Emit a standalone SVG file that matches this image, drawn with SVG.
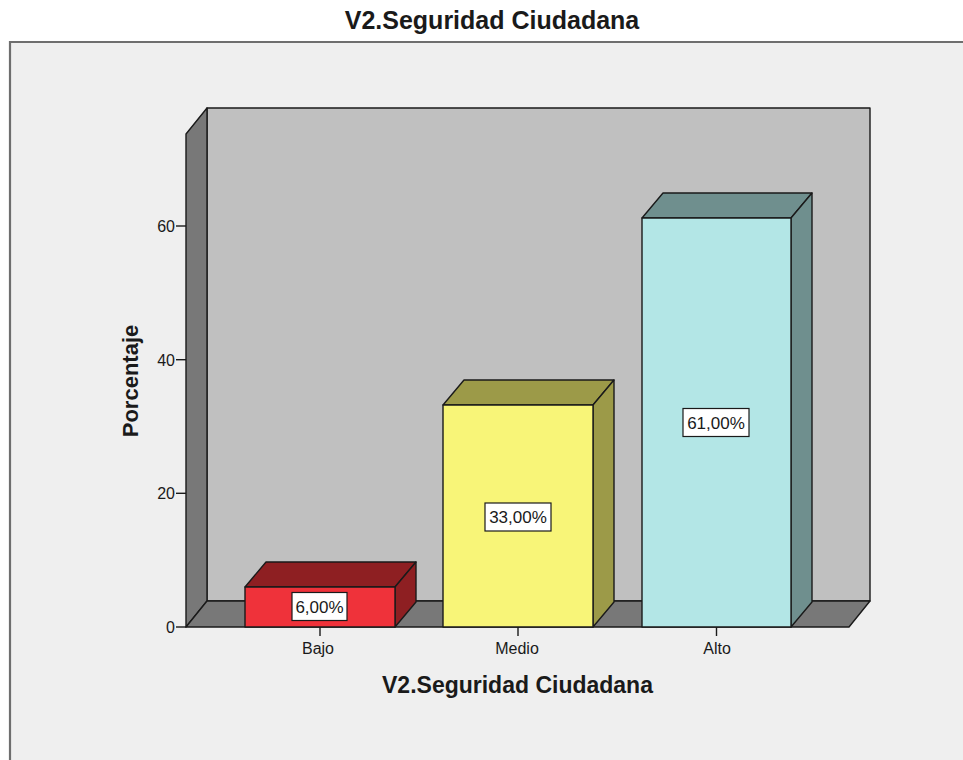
<svg xmlns="http://www.w3.org/2000/svg" width="963" height="760" viewBox="0 0 963 760">
<style>
.ln{stroke:#1a1a1a;stroke-width:1.4;stroke-linejoin:round}
.t{font-family:"Liberation Sans",Arial,sans-serif;fill:#1a1a1a}
.tick{font-size:16px}
.ttl{font-size:25px;font-weight:bold;text-anchor:middle}
.ax{font-size:23px;font-weight:bold;text-anchor:middle}
.val{font-size:17px;text-anchor:middle}
.box{fill:#ffffff;stroke:#1a1a1a;stroke-width:1.2}
</style>
<rect x="0" y="0" width="963" height="760" fill="#ffffff"/>
<rect x="10" y="42" width="953" height="718" fill="#efefef"/>
<path d="M10 760 V42 H963" fill="none" stroke="#6e6e6e" stroke-width="2.2"/>
<text class="t ttl" x="492" y="29">V2.Seguridad Ciudadana</text>

<g id="walls">
<rect class="ln" x="207" y="108" width="663" height="493" fill="#c0c0c0"/>
<polygon class="ln" points="186,134 207,108 207,601 186,627" fill="#787878"/>
<polygon class="ln" points="186,627 207,601 870,601 849,627" fill="#787878"/>
</g>

<g id="y-axis">
<g class="ln" fill="none">
<line x1="176" y1="627" x2="186" y2="627"/>
<line x1="176" y1="493.3" x2="186" y2="493.3"/>
<line x1="176" y1="359.7" x2="186" y2="359.7"/>
<line x1="176" y1="226" x2="186" y2="226"/>
</g>
<g class="t tick" text-anchor="end">
<text x="175" y="633">0</text>
<text x="175" y="499">20</text>
<text x="175" y="366">40</text>
<text x="175" y="232">60</text>
</g>
<text class="t ax" transform="translate(138,381) rotate(-90)" x="0" y="0" style="font-size:22px">Porcentaje</text>
</g>

<g id="bar-bajo">
<polygon class="ln" points="245,587 266,562 416,562 395,587" fill="#8e1f22"/>
<polygon class="ln" points="395,587 416,562 416,602 395,627" fill="#8e1f22"/>
<rect class="ln" x="245" y="587" width="150" height="40" fill="#ef323a"/>
<rect class="box" x="292" y="592.5" width="55" height="28"/>
<text class="t val" x="319.5" y="612.5">6,00%</text>
</g>

<g id="bar-medio">
<polygon class="ln" points="443,405 464,380 614,380 593,405" fill="#9c9a48"/>
<polygon class="ln" points="593,405 614,380 614,602 593,627" fill="#9c9a48"/>
<rect class="ln" x="443" y="405" width="150" height="222" fill="#f8f578"/>
<rect class="box" x="485" y="503" width="66" height="28"/>
<text class="t val" x="518" y="523">33,00%</text>
</g>

<g id="bar-alto">
<polygon class="ln" points="642,218 663,193 812,193 791,218" fill="#6f8f8e"/>
<polygon class="ln" points="791,218 812,193 812,602 791,627" fill="#6f8f8e"/>
<rect class="ln" x="642" y="218" width="149" height="409" fill="#b3e6e6"/>
<rect class="box" x="683" y="408.5" width="66" height="28"/>
<text class="t val" x="716" y="428.5">61,00%</text>
</g>

<g id="x-axis">
<g class="ln" fill="none">
<line x1="320" y1="627" x2="320" y2="636"/>
<line x1="518" y1="627" x2="518" y2="636"/>
<line x1="716.5" y1="627" x2="716.5" y2="636"/>
</g>
<g class="t tick" text-anchor="middle">
<text x="318" y="654">Bajo</text>
<text x="517" y="654">Medio</text>
<text x="717" y="654">Alto</text>
</g>
<text class="t ax" x="517.5" y="693">V2.Seguridad Ciudadana</text>
</g>
</svg>
